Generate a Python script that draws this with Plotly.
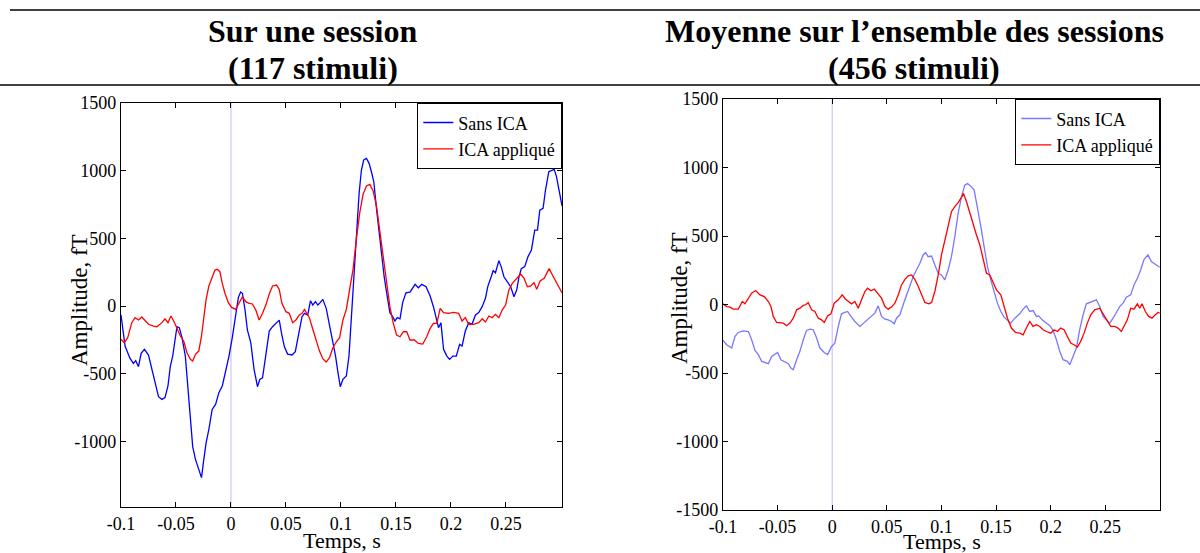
import plotly.graph_objects as go

# ---------------- data ----------------
# Left panel: one session (117 stimuli)
t_l_sans = [-0.1, -0.0963, -0.0918, -0.0887, -0.0866, -0.0841, -0.0817, -0.0787, -0.075, -0.072, -0.0689, -0.0659, -0.0628, -0.06, -0.0573, -0.0552, -0.053, -0.0506, -0.0491, -0.047, -0.0445, -0.0415, -0.039, -0.0369, -0.0348, -0.0323, -0.0293, -0.0268, -0.0247, -0.0226, -0.0201, -0.0171, -0.014, -0.011, -0.0079, -0.0049, -0.0018, 0.0012, 0.0043, 0.0067, 0.0088, 0.0104, 0.0128, 0.0149, 0.018, 0.021, 0.0241, 0.0262, 0.0287, 0.0317, 0.0348, 0.0378, 0.0409, 0.0439, 0.046, 0.0485, 0.0515, 0.0555, 0.0585, 0.0616, 0.0646, 0.0668, 0.0698, 0.0723, 0.0744, 0.0768, 0.079, 0.0811, 0.0835, 0.0866, 0.0896, 0.0927, 0.0951, 0.0973, 0.0994, 0.1018, 0.1049, 0.1073, 0.1095, 0.1116, 0.114, 0.1165, 0.1186, 0.1207, 0.1232, 0.1256, 0.1277, 0.1299, 0.1323, 0.1348, 0.1369, 0.1393, 0.1421, 0.1445, 0.147, 0.1491, 0.1512, 0.1537, 0.1561, 0.1591, 0.1628, 0.1674, 0.1704, 0.1735, 0.1774, 0.1811, 0.1841, 0.1866, 0.1887, 0.1909, 0.1933, 0.1963, 0.1988, 0.2018, 0.2049, 0.2079, 0.2101, 0.2131, 0.2162, 0.2192, 0.2223, 0.2253, 0.2284, 0.2314, 0.2335, 0.2366, 0.2384, 0.2405, 0.2436, 0.2457, 0.2482, 0.2512, 0.2543, 0.2573, 0.2598, 0.2619, 0.264, 0.2671, 0.2701, 0.2732, 0.2762, 0.2787, 0.2808, 0.2838, 0.286, 0.289, 0.2915, 0.2939, 0.296, 0.2991, 0.301]
v_l_sans = [-66, -296, -387, -424, -404, -448, -350, -320, -362, -468, -571, -670, -690, -677, -591, -448, -370, -222, -153, -160, -234, -370, -616, -866, -1039, -1133, -1212, -1268, -1133, -1010, -911, -764, -727, -640, -591, -492, -370, -234, -49, 62, 103, 94, -30, -177, -271, -468, -596, -542, -530, -369, -185, -153, -128, -104, -202, -300, -355, -362, -337, -202, -79, -54, -66, 39, 7, 32, 7, 25, 49, -17, -140, -251, -370, -492, -596, -542, -517, -370, -79, 216, 512, 832, 1005, 1079, 1091, 1054, 992, 918, 721, 537, 389, 216, 69, -49, -79, -111, -86, -94, 25, 98, 103, 160, 135, 160, 143, 74, -5, -79, -160, -123, -320, -370, -394, -370, -370, -283, -296, -185, -123, -135, -66, -49, -5, 57, 143, 216, 261, 246, 335, 291, 216, 180, 143, 69, 118, 216, 276, 291, 365, 414, 561, 561, 709, 721, 857, 992, 1000, 1010, 956, 832, 740]

t_l_ica = [-0.1, -0.097, -0.0939, -0.0902, -0.0872, -0.0841, -0.0811, -0.078, -0.075, -0.0704, -0.0674, -0.0628, -0.06, -0.0573, -0.0546, -0.0521, -0.0491, -0.046, -0.043, -0.04, -0.0369, -0.0348, -0.0323, -0.0293, -0.0268, -0.0247, -0.0226, -0.0201, -0.0171, -0.0146, -0.0125, -0.0101, -0.0079, -0.0055, -0.0024, 0.0006, 0.0043, 0.0073, 0.0104, 0.0134, 0.0165, 0.0195, 0.0226, 0.0256, 0.0287, 0.0317, 0.0348, 0.0378, 0.0415, 0.0439, 0.0463, 0.05, 0.053, 0.0561, 0.0591, 0.0622, 0.0646, 0.0668, 0.0689, 0.0713, 0.0744, 0.0774, 0.0805, 0.0835, 0.0866, 0.0896, 0.0927, 0.0957, 0.0988, 0.1018, 0.1049, 0.1079, 0.111, 0.114, 0.1171, 0.1201, 0.1232, 0.1262, 0.1293, 0.1323, 0.1354, 0.1384, 0.1415, 0.1445, 0.1476, 0.1506, 0.1537, 0.1567, 0.1598, 0.1628, 0.1668, 0.1704, 0.1744, 0.178, 0.1811, 0.1841, 0.1872, 0.1902, 0.1933, 0.1979, 0.2024, 0.207, 0.2101, 0.2131, 0.2162, 0.2207, 0.2253, 0.2284, 0.2314, 0.2345, 0.2375, 0.2405, 0.2436, 0.2466, 0.2497, 0.2527, 0.2558, 0.2604, 0.2634, 0.2665, 0.2695, 0.2726, 0.2756, 0.278, 0.2811, 0.2848, 0.2893, 0.2924, 0.2963, 0.3, 0.301]
v_l_ica = [-246, -271, -234, -123, -86, -103, -81, -111, -135, -148, -153, -123, -94, -123, -74, -111, -172, -222, -259, -345, -394, -406, -357, -333, -222, -74, 49, 148, 205, 266, 271, 254, 167, 94, 25, -10, -25, 20, 69, 32, 20, 15, -30, -103, -54, 7, 89, 148, 155, 123, 20, -42, -54, -123, -103, -66, -54, -25, -54, -86, -172, -246, -333, -389, -414, -382, -308, -266, -234, -103, -25, 123, 271, 493, 690, 825, 887, 899, 850, 739, 542, 345, 148, -5, -128, -214, -227, -190, -190, -251, -251, -276, -281, -227, -165, -128, -128, -17, -49, -54, -47, -54, -111, -86, -135, -135, -123, -94, -118, -74, -86, -62, -86, -30, 7, 118, 167, 212, 236, 205, 143, 148, 172, 123, 185, 205, 276, 227, 167, 106, 98]

# Right panel: average over all sessions (456 stimuli)
t_r_sans = [-0.1, -0.0966, -0.0921, -0.089, -0.086, -0.0814, -0.0768, -0.0738, -0.0707, -0.0677, -0.0646, -0.0616, -0.0585, -0.0555, -0.0524, -0.05, -0.047, -0.0439, -0.0402, -0.0378, -0.0357, -0.0326, -0.0296, -0.0265, -0.0235, -0.0204, -0.0174, -0.0143, -0.0113, -0.0073, -0.0043, -0.0006, 0.0024, 0.0055, 0.0085, 0.0116, 0.014, 0.0171, 0.0207, 0.0253, 0.0299, 0.033, 0.036, 0.039, 0.0421, 0.0451, 0.0482, 0.0512, 0.0543, 0.0567, 0.0588, 0.0619, 0.0649, 0.068, 0.071, 0.0741, 0.0771, 0.0802, 0.0832, 0.0854, 0.0878, 0.0909, 0.0939, 0.097, 0.1, 0.103, 0.1061, 0.1091, 0.1122, 0.1152, 0.1183, 0.1213, 0.1238, 0.1268, 0.1299, 0.1329, 0.136, 0.139, 0.1421, 0.1451, 0.1482, 0.1512, 0.1543, 0.1573, 0.1604, 0.1634, 0.1671, 0.1716, 0.1747, 0.1777, 0.1808, 0.1838, 0.1869, 0.189, 0.1921, 0.196, 0.1991, 0.2021, 0.2052, 0.2082, 0.2113, 0.2152, 0.2174, 0.2204, 0.2235, 0.2265, 0.2296, 0.2326, 0.2357, 0.2387, 0.2418, 0.2448, 0.2479, 0.2509, 0.254, 0.257, 0.2601, 0.2631, 0.2662, 0.2692, 0.2732, 0.2762, 0.2793, 0.2823, 0.2854, 0.289, 0.2921, 0.2951, 0.2982, 0.2997]
v_r_sans = [-262, -294, -318, -233, -204, -192, -197, -257, -335, -366, -415, -422, -432, -379, -359, -350, -403, -415, -432, -464, -476, -403, -342, -257, -189, -180, -184, -245, -318, -350, -366, -306, -282, -160, -68, -58, -51, -87, -124, -160, -129, -107, -83, -63, -10, -87, -107, -112, -124, -141, -100, -75, -2, 70, 136, 204, 252, 301, 362, 379, 349, 354, 289, 228, 216, 180, 252, 349, 495, 665, 786, 871, 883, 864, 835, 714, 568, 422, 277, 180, 83, 10, -51, -92, -116, -136, -100, -68, -34, -10, -51, -44, -87, -83, -112, -136, -155, -189, -257, -342, -403, -415, -439, -379, -318, -184, -75, 5, 15, 22, 34, -15, -87, -112, -136, -100, -51, -15, 10, 53, 70, 143, 192, 252, 330, 362, 313, 296, 277, 272]

t_r_ica = [-0.1, -0.0966, -0.0936, -0.0905, -0.086, -0.0823, -0.0799, -0.0768, -0.0738, -0.0701, -0.0662, -0.0622, -0.0585, -0.0561, -0.054, -0.0509, -0.0479, -0.0448, -0.0418, -0.0387, -0.0357, -0.0326, -0.0296, -0.0265, -0.0244, -0.022, -0.0189, -0.0159, -0.0128, -0.0098, -0.0073, -0.0043, -0.0012, 0.0018, 0.0055, 0.0091, 0.0122, 0.0152, 0.0177, 0.0207, 0.0238, 0.0268, 0.0299, 0.0323, 0.0354, 0.0384, 0.0415, 0.0451, 0.0482, 0.0512, 0.0543, 0.0573, 0.0604, 0.0634, 0.0665, 0.0695, 0.0726, 0.0756, 0.0787, 0.0817, 0.0848, 0.0884, 0.0909, 0.0939, 0.097, 0.1, 0.103, 0.1061, 0.1091, 0.1122, 0.1152, 0.1183, 0.1201, 0.1229, 0.1259, 0.129, 0.132, 0.1351, 0.1381, 0.1412, 0.1442, 0.1473, 0.1503, 0.1543, 0.1573, 0.1604, 0.164, 0.1677, 0.1716, 0.1747, 0.1777, 0.1808, 0.1838, 0.1869, 0.1899, 0.193, 0.196, 0.2, 0.203, 0.2061, 0.2091, 0.2122, 0.2152, 0.2183, 0.2213, 0.2244, 0.2274, 0.2305, 0.2335, 0.2366, 0.2402, 0.2448, 0.2479, 0.2518, 0.2549, 0.2585, 0.2616, 0.2646, 0.2677, 0.2701, 0.2732, 0.2762, 0.2793, 0.2814, 0.2835, 0.2866, 0.2896, 0.2927, 0.2957, 0.2982, 0.2997]
v_r_ica = [5, -15, -19, -34, -34, 22, 5, 46, 83, 102, 70, 58, 22, -15, -87, -131, -131, -136, -155, -136, -100, -39, -27, -7, -2, 15, -39, -51, -100, -112, -131, -83, -68, 10, 34, 70, 39, 22, 5, 22, -27, 34, 95, 119, 100, 112, 83, 46, -15, -34, -19, 10, 70, 143, 184, 209, 216, 184, 131, 70, 15, 5, 15, 95, 216, 362, 471, 580, 677, 714, 743, 782, 811, 750, 665, 592, 507, 434, 337, 228, 216, 155, 107, 70, -15, -100, -172, -204, -209, -221, -172, -124, -160, -148, -160, -184, -197, -209, -184, -197, -172, -184, -233, -282, -294, -311, -269, -209, -136, -75, -39, -27, -68, -124, -160, -160, -172, -197, -148, -112, -27, -34, 5, -27, 5, -51, -87, -100, -75, -58, -63]

stim_onset = [0]
series_names = ["Sans ICA", "ICA appliqué"]
x_ticks = [-0.1, -0.05, 0, 0.05, 0.1, 0.15, 0.2, 0.25]
x_tick_text = ["-0.1", "-0.05", "0", "0.05", "0.1", "0.15", "0.2", "0.25"]
y_ticks = [-1500, -1000, -500, 0, 500, 1000, 1500]
y_tick_text = ["-1500", "-1000", "-500", "0", "500", "1000", "1500"]
titles = [("Sur une session", "(117 stimuli)"),
          ("Moyenne sur l’ensemble des sessions", "(456 stimuli)")]

# ---------------- figure ----------------
W, H = 1200, 553
SERIF = "Liberation Serif, Times New Roman, serif"

def px_x(p):
    return p / W

def px_y(p):
    return 1 - p / H

fig = go.Figure()

fig.add_trace(go.Scatter(x=t_l_sans, y=v_l_sans, mode="lines", name=series_names[0],
                         line=dict(color="#0000ff", width=1.3), xaxis="x", yaxis="y", legend="legend"))
fig.add_trace(go.Scatter(x=t_l_ica, y=v_l_ica, mode="lines", name=series_names[1],
                         line=dict(color="#ff0000", width=1.3), xaxis="x", yaxis="y", legend="legend"))
fig.add_trace(go.Scatter(x=t_r_sans, y=v_r_sans, mode="lines", name=series_names[0],
                         line=dict(color="rgb(120,120,255)", width=1.3), xaxis="x2", yaxis="y2", legend="legend2"))
fig.add_trace(go.Scatter(x=t_r_ica, y=v_r_ica, mode="lines", name=series_names[1],
                         line=dict(color="#ff0000", width=1.3), xaxis="x2", yaxis="y2", legend="legend2"))

# axes geometry (pixels)
L = dict(x0=121, x1=562, y0=103, y1=507)
R = dict(x0=723, x1=1160, y0=99, y1=510)

common_axis = dict(showline=True, linecolor="black", linewidth=1.3, mirror="ticks",
                   ticks="inside", ticklen=5, tickwidth=1, tickcolor="black",
                   showgrid=False, zeroline=False, automargin=False,
                   tickfont=dict(family=SERIF, size=18, color="black"))

legend_style = dict(xanchor="right", yanchor="top", bgcolor="white", bordercolor="black",
                    borderwidth=1.3, font=dict(family=SERIF, size=18, color="black"),
                    itemwidth=30, tracegroupgap=0)

fig.update_layout(
    width=W, height=H, autosize=False,
    margin=dict(l=0, r=0, t=0, b=0, pad=0, autoexpand=False),
    paper_bgcolor="white", plot_bgcolor="white",
    xaxis=dict(domain=[px_x(L["x0"]), px_x(L["x1"])], range=[-0.1, 0.301], anchor="y",
               tickvals=x_ticks, ticktext=x_tick_text, **common_axis),
    yaxis=dict(domain=[px_y(L["y1"]), px_y(L["y0"])], range=[-1485, 1500], anchor="x",
               tickvals=y_ticks, ticktext=y_tick_text, **common_axis),
    xaxis2=dict(domain=[px_x(R["x0"]), px_x(R["x1"])], range=[-0.1, 0.3], anchor="y2",
                tickvals=x_ticks, ticktext=x_tick_text, **common_axis),
    yaxis2=dict(domain=[px_y(R["y1"]), px_y(R["y0"])], range=[-1500, 1500], anchor="x2",
                tickvals=y_ticks, ticktext=y_tick_text, **common_axis),
    legend=dict(x=px_x(L["x1"]), y=px_y(L["y0"]), **legend_style),
    legend2=dict(x=px_x(R["x1"]), y=px_y(R["y0"]), **legend_style),
    showlegend=True,
)

# stimulus onset lines
for xr, yr in (("x", "y"), ("x2", "y2")):
    fig.add_shape(type="line", xref=xr, yref=yr + " domain", x0=stim_onset[0], x1=stim_onset[0],
                  y0=0, y1=1, line=dict(color="#d8c8f8", width=1.3), layer="below")

# table border lines
fig.add_shape(type="line", xref="paper", yref="paper", x0=px_x(10), x1=1, y0=px_y(10), y1=px_y(10),
              line=dict(color="black", width=1.5))
fig.add_shape(type="line", xref="paper", yref="paper", x0=0, x1=1, y0=px_y(85), y1=px_y(85),
              line=dict(color="black", width=1.5))

# titles
for (l1, l2), cx in zip(titles, (313, 914)):
    fig.add_annotation(text="<b>%s</b>" % l1, x=px_x(cx), y=px_y(31), xref="paper", yref="paper",
                       showarrow=False, xanchor="center", yanchor="middle",
                       font=dict(family=SERIF, size=32, color="black"))
    fig.add_annotation(text="<b>%s</b>" % l2, x=px_x(cx), y=px_y(68), xref="paper", yref="paper",
                       showarrow=False, xanchor="center", yanchor="middle",
                       font=dict(family=SERIF, size=32, color="black"))

# axis titles
for cx, cy in ((79, 300), (679, 298)):
    fig.add_annotation(text="Amplitude, fT", x=px_x(cx), y=px_y(cy), xref="paper", yref="paper",
                       showarrow=False, textangle=-90, xanchor="center", yanchor="middle",
                       font=dict(family=SERIF, size=23, color="black"))
for cx, cy in ((342, 540), (942, 541)):
    fig.add_annotation(text="Temps, s", x=px_x(cx), y=px_y(cy), xref="paper", yref="paper",
                       showarrow=False, xanchor="center", yanchor="middle",
                       font=dict(family=SERIF, size=22, color="black"))

fig.write_html("out.html", config={"displayModeBar": False},
               post_script="document.body.style.margin='0px';")
